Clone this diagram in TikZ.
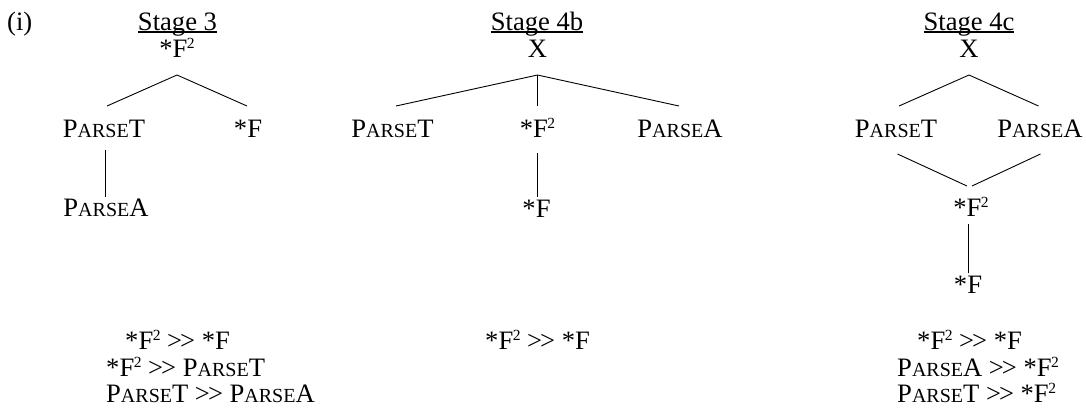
\documentclass[tikz,border=0pt]{standalone}
\usepackage{fontspec}
\setmainfont{Liberation Serif}
\newcommand\scsz{\fontsize{20bp}{20bp}\selectfont}
\newcommand\parset{P{\scsz ARSE}T}
\newcommand\parsea{P{\scsz ARSE}A}
\newcommand\supII{\kern-0.5bp\raisebox{8.5bp}{\fontsize{15.5bp}{15.5bp}\selectfont 2}}
\newcommand\fsq{*F\supII}
\newcommand\rankgt{>\kern-2bp>}
\newcommand\stgul[1]{\setbox0\hbox{#1}\rlap{\rule[-2.6bp]{\wd0}{1.2bp}}\box0}
\begin{document}
\begin{tikzpicture}[x=1bp,y=-1bp,
  txt/.style={anchor=base, inner sep=0pt, font=\fontsize{26.6bp}{30bp}\selectfont},
  rank/.style={txt, anchor=base west},
  edge/.style={line width=0.9bp}]
\useasboundingbox (0,0) rectangle (1086,407);

\node[txt, anchor=base west] (lbl) at (7,30) {(i)};

% Stage 3
\node[txt] (s3title) at (177.5,30) {\stgul{Stage 3}};
\node[txt] (s3root) at (177,57) {\fsq};
\node[txt] (s3pt) at (104,137) {\parset};
\node[txt] (s3f) at (248,137) {*F};
\node[txt] (s3pa) at (106,216) {\parsea};
\draw[edge] ([xshift=3bp,yshift=31bp]s3pt.base) -- ([yshift=-18bp]s3root.base) -- ([xshift=-1bp,yshift=31bp]s3f.base);
\draw[edge] ([xshift=1bp,yshift=-13bp]s3pt.base) -- ([xshift=-1bp,yshift=19bp]s3pa.base);
\node[rank] (r3a) at (125,349) {\fsq{} \rankgt{} *F};
\node[rank] (r3b) at (106,376) {\fsq{} \rankgt{} \parset};
\node[rank] (r3c) at (106,402) {\parset{} \rankgt{} \parsea};

% Stage 4b
\node[txt] (s4bt) at (537,30) {\stgul{Stage 4b}};
\node[txt] (s4bx) at (537.5,57) {X};
\node[txt] (s4bpt) at (392.5,137) {\parset};
\node[txt] (s4bf2) at (537.5,137) {\fsq};
\node[txt] (s4bpa) at (680,137) {\parsea};
\node[txt] (s4bf) at (536.5,217) {*F};
\draw[edge] ([xshift=3.5bp,yshift=31bp]s4bpt.base) -- ([yshift=-18bp]s4bx.base) -- ([xshift=-1bp,yshift=31bp]s4bpa.base);
\draw[edge] ([yshift=-18bp]s4bx.base) -- ([yshift=31bp]s4bx.base |- s4bf2.base);
\draw[edge] ([yshift=-16bp]s4bx.base |- s4bf2.base) -- ([yshift=20bp]s4bx.base |- s4bf.base);
\node[rank] (r4b) at (485,349) {\fsq{} \rankgt{} *F};

% Stage 4c
\node[txt] (s4ct) at (969,30) {\stgul{Stage 4c}};
\node[txt] (s4cx) at (969,57) {X};
\node[txt] (s4cpt) at (896,137) {\parset};
\node[txt] (s4cpa) at (1040,137) {\parsea};
\node[txt] (s4cf2) at (971,216) {\fsq};
\node[txt] (s4cf) at (968,293) {*F};
\draw[edge] ([xshift=3bp,yshift=31bp]s4cpt.base) -- ([yshift=-18bp]s4cx.base) -- ([xshift=-1.5bp,yshift=31bp]s4cpa.base);
\draw[edge] ([xshift=1.5bp,yshift=-17bp]s4cpt.base) -- ([xshift=-4bp,yshift=30bp]s4cf2.base);
\draw[edge] ([xshift=0.5bp,yshift=-17bp]s4cpa.base) -- ([xshift=1bp,yshift=30bp]s4cf2.base);
\draw[edge] ([xshift=-2.5bp,yshift=-8bp]s4cf2.base) -- ([xshift=0.5bp,yshift=20bp]s4cf.base);
\node[rank] (r4ca) at (917,349) {\fsq{} \rankgt{} *F};
\node[rank] (r4cb) at (897,376) {\parsea{} \rankgt{} \fsq};
\node[rank] (r4cc) at (897,402) {\parset{} \rankgt{} \fsq};
\end{tikzpicture}
\end{document}
